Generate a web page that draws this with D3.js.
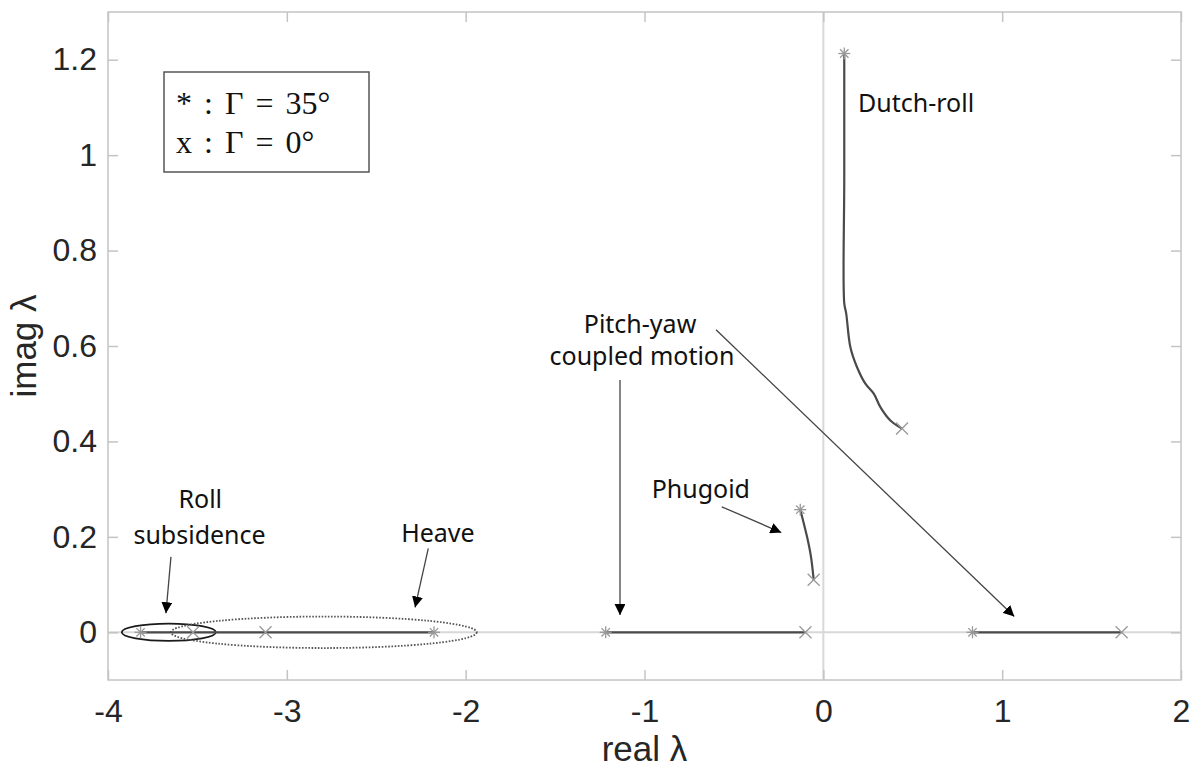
<!DOCTYPE html>
<html>
<head>
<script src="https://d3js.org/d3.v7.min.js"></script>
<style>
  body { margin: 0; background: #fff; }
  .tick text { font-family: "Liberation Sans", Arial, sans-serif; fill: #262626; }
  .note { font-family: "Noto Sans", "Open Sans", sans-serif; font-size: 25px; fill: #111; }
</style>
</head>
<body>
<div id="chart"></div>
<script>
  const width = 1195, height = 773
  const margin = { left: 108, right: 14, top: 12, bottom: 93 }

  // tick values
  const xTicks = [-4, -3, -2, -1, 0, 1, 2]
  const yTicks = [0, 0.2, 0.4, 0.6, 0.8, 1, 1.2]

  // eigenvalue loci (real, imag), Gamma from 35 deg to 0 deg
  const dutchRe = [0.117, 0.117, 0.117, 0.128, 0.151, 0.188, 0.235, 0.282, 0.319, 0.375, 0.44]
  const dutchIm = [1.213, 0.95, 0.69, 0.668, 0.598, 0.556, 0.521, 0.500, 0.472, 0.444, 0.427]
  const phugRe = [-0.129, -0.091, -0.069, -0.054]
  const phugIm = [0.257, 0.200, 0.158, 0.110]
  const rollRe = [-3.818, -3.524]
  const heaveRe = [-2.177, -3.524]
  const pitchNegRe = [-1.217, -0.10]
  const pitchPosRe = [0.834, 1.668]

  // end markers
  const starRe = [0.117, -0.129, -3.818, -2.177, -1.217, 0.834]
  const starIm = [1.213, 0.257, 0, 0, 0, 0]
  const crossRe = [0.44, -0.054, -3.524, -3.119, -0.10, 1.668]
  const crossIm = [0.427, 0.110, 0, 0, 0, 0]

  // annotations (data units)
  const labels = [
    { t: "Roll", x: -3.484, y: 0.260, a: "middle" },
    { t: "subsidence", x: -3.488, y: 0.185, a: "middle" },
    { t: "Heave", x: -2.155, y: 0.190, a: "middle" },
    { t: "Phugoid", x: -0.685, y: 0.281, a: "middle" },
    { t: "Pitch-yaw", x: -1.025, y: 0.627, a: "middle" },
    { t: "coupled motion", x: -1.014, y: 0.560, a: "middle" },
    { t: "Dutch-roll", x: 0.194, y: 1.090, a: "start" }
  ]
  const arrows = [
    [-3.648, 0.158, -3.676, 0.040],
    [-2.209, 0.176, -2.283, 0.052],
    [-0.568, 0.263, -0.235, 0.209],
    [-1.137, 0.529, -1.137, 0.036],
    [-0.600, 0.634, 1.068, 0.033]
  ]
  const ellipses = [
    { cx: -3.66, rx: 0.263, ry: 0.018, dash: null, c: "#1a1a1a" },
    { cx: -2.793, rx: 0.855, ry: 0.033, dash: "1.6,1.6", c: "#555" }
  ]

  const svg = d3.select("#chart").append("svg")
    .attr("width", width).attr("height", height)

  const x = d3.scaleLinear().domain([-4, 2]).range([margin.left, width - margin.right])
  const y = d3.scaleLinear().domain([-0.1, 1.3]).range([height - margin.bottom, margin.top])

  svg.append("defs").append("marker")
    .attr("id", "head").attr("viewBox", "0 0 10 10")
    .attr("refX", 10).attr("refY", 5)
    .attr("markerWidth", 11).attr("markerHeight", 11)
    .attr("markerUnits", "userSpaceOnUse")
    .attr("orient", "auto")
    .append("path").attr("d", "M0,0 L10,5 L0,10 Z").attr("fill", "#000")

  // zero lines
  svg.append("line").attr("x1", x(-4)).attr("x2", x(2)).attr("y1", y(0)).attr("y2", y(0))
    .attr("stroke", "#d8d8d8").attr("stroke-width", 2)
  svg.append("line").attr("x1", x(0)).attr("x2", x(0)).attr("y1", y(-0.1)).attr("y2", y(1.3))
    .attr("stroke", "#d8d8d8").attr("stroke-width", 2)

  // axes
  const xAxis = svg.append("g").attr("transform", `translate(0,${y(-0.1)})`)
    .call(d3.axisBottom(x).tickValues(xTicks).tickSize(-10).tickSizeOuter(0).tickPadding(19)
      .tickFormat(d => d < 0 ? "-" + Math.abs(d) : d))
  const yAxis = svg.append("g").attr("transform", `translate(${x(-4)},0)`)
    .call(d3.axisLeft(y).tickValues(yTicks).tickSize(-10).tickSizeOuter(0).tickPadding(11)
      .tickFormat(d3.format("~g")))
  ;[xAxis, yAxis].forEach(g => {
    g.select(".domain").remove()
    g.selectAll(".tick line").attr("stroke", "#c4c4c4").attr("stroke-width", 1.5)
    g.selectAll(".tick text").attr("font-size", 32)
  })
  // mirrored ticks on top / right
  svg.append("g").attr("transform", `translate(0,${y(1.3)})`)
    .call(d3.axisTop(x).tickValues(xTicks).tickSize(-10).tickSizeOuter(0).tickFormat(""))
    .call(g => g.select(".domain").remove())
    .selectAll("line").attr("stroke", "#c4c4c4").attr("stroke-width", 1.5)
  svg.append("g").attr("transform", `translate(${x(2)},0)`)
    .call(d3.axisRight(y).tickValues(yTicks).tickSize(-10).tickSizeOuter(0).tickFormat(""))
    .call(g => g.select(".domain").remove())
    .selectAll("line").attr("stroke", "#c4c4c4").attr("stroke-width", 1.5)

  // frame
  svg.append("rect")
    .attr("x", x(-4)).attr("y", y(1.3))
    .attr("width", x(2) - x(-4)).attr("height", y(-0.1) - y(1.3))
    .attr("fill", "none").attr("stroke", "#c4c4c4").attr("stroke-width", 1.5)

  // axis titles
  svg.append("text").attr("x", (x(-4) + x(2)) / 2).attr("y", 761)
    .attr("text-anchor", "middle").attr("font-family", "Liberation Sans, Arial, sans-serif")
    .attr("font-size", 35).attr("fill", "#262626").text("real λ")
  svg.append("text").attr("transform", `translate(36,${(y(-0.1) + y(1.3)) / 2}) rotate(-90)`)
    .attr("text-anchor", "middle").attr("font-family", "Liberation Sans, Arial, sans-serif")
    .attr("font-size", 35).attr("fill", "#262626").text("imag λ")

  // ellipses
  svg.selectAll(".ell").data(ellipses).join("ellipse")
    .attr("cx", d => x(d.cx)).attr("cy", y(0))
    .attr("rx", d => x(d.cx + d.rx) - x(d.cx)).attr("ry", d => y(0) - y(d.ry))
    .attr("fill", "none").attr("stroke", d => d.c).attr("stroke-width", 1.8)
    .attr("stroke-dasharray", d => d.dash)

  // loci
  const line = d3.line().x(d => x(d[0])).y(d => y(d[1]))
  const loci = [
    { pts: d3.zip(dutchRe, dutchIm), curve: d3.curveCatmullRom },
    { pts: d3.zip(phugRe, phugIm), curve: d3.curveCatmullRom },
    { pts: rollRe.map(r => [r, 0]), curve: d3.curveLinear },
    { pts: heaveRe.map(r => [r, 0]), curve: d3.curveLinear },
    { pts: pitchNegRe.map(r => [r, 0]), curve: d3.curveLinear },
    { pts: pitchPosRe.map(r => [r, 0]), curve: d3.curveLinear }
  ]
  svg.selectAll(".locus").data(loci).join("path")
    .attr("d", d => line.curve(d.curve)(d.pts))
    .attr("fill", "none").attr("stroke", "#4a4a4a").attr("stroke-width", 2.2)

  // markers
  const s = 6
  d3.zip(starRe, starIm).forEach(([r, i]) => {
    const g = svg.append("g").attr("transform", `translate(${x(r)},${y(i)})`)
      .attr("stroke", "#999").attr("stroke-width", 1.3)
    g.append("line").attr("x1", -s).attr("x2", s)
    g.append("line").attr("y1", -s).attr("y2", s)
    g.append("line").attr("x1", -s * 0.7).attr("x2", s * 0.7).attr("y1", -s * 0.7).attr("y2", s * 0.7)
    g.append("line").attr("x1", -s * 0.7).attr("x2", s * 0.7).attr("y1", s * 0.7).attr("y2", -s * 0.7)
  })
  d3.zip(crossRe, crossIm).forEach(([r, i]) => {
    const g = svg.append("g").attr("transform", `translate(${x(r)},${y(i)})`)
      .attr("stroke", "#999").attr("stroke-width", 1.3)
    g.append("line").attr("x1", -s).attr("x2", s).attr("y1", -s).attr("y2", s)
    g.append("line").attr("x1", -s).attr("x2", s).attr("y1", s).attr("y2", -s)
  })

  // arrows
  svg.selectAll(".arrow").data(arrows).join("line")
    .attr("x1", d => x(d[0])).attr("y1", d => y(d[1]))
    .attr("x2", d => x(d[2])).attr("y2", d => y(d[3]))
    .attr("stroke", "#444").attr("stroke-width", 1.3)
    .attr("marker-end", "url(#head)")

  // annotation text
  svg.selectAll(".note").data(labels).join("text")
    .attr("class", "note")
    .attr("x", d => x(d.x)).attr("y", d => y(d.y))
    .attr("text-anchor", d => d.a).text(d => d.t)

  // legend box
  const leg = svg.append("g")
  leg.append("rect").attr("x", 164).attr("y", 72).attr("width", 205).attr("height", 100)
    .attr("fill", "#fff").attr("stroke", "#555").attr("stroke-width", 1.5)
  const legLines = ["* : Γ = 35°", "x : Γ = 0°"]
  leg.selectAll("text").data(legLines).join("text")
    .attr("x", 176).attr("y", (d, i) => 114 + i * 39)
    .attr("font-family", "Liberation Serif, 'DejaVu Serif', serif")
    .attr("font-size", 32).attr("word-spacing", 4).attr("fill", "#111")
    .text(d => d)
</script>
</body>
</html>
